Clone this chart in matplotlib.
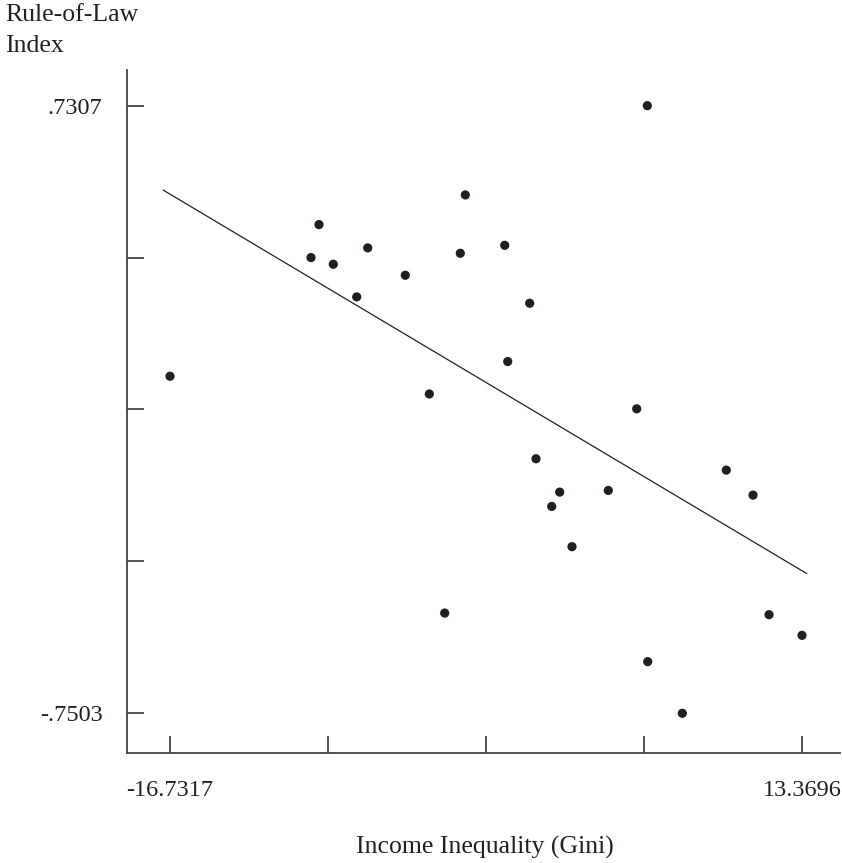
import numpy as np
import matplotlib
matplotlib.use("Agg")
import matplotlib.pyplot as plt

# ---- data ----
gini = [-16.7317, -10.016, -9.635, -8.954, -7.839, -7.315, -5.525, -4.381,
        -3.648, -2.905, -2.667, -0.790, -0.647, 0.401, 0.700, 1.448, 1.829,
        2.415, 4.144, 5.497, 6.002, 6.021, 7.669, 9.764, 11.036, 11.798, 13.3696]
rule_of_law = [0.0713, 0.3605, 0.4409, 0.3442, 0.2647, 0.3841, 0.3174, 0.0280,
               -0.5060, 0.3710, 0.5132, 0.3904, 0.1071, 0.2492, -0.1299, -0.2461,
               -0.2112, -0.3442, -0.2071, -0.0081, 0.7307, -0.6244, -0.7503,
               -0.1576, -0.2185, -0.5099, -0.5603]
fit_x_range = [-17.05, 13.59]
x_min_label, x_max_label = -16.7317, 13.3696
y_min_label, y_max_label = -0.7503, 0.7307
x_tick_labels = ["-16.7317", "", "", "", "13.3696"]
y_tick_labels = ["-.7503", "", "", "", ".7307"]

ink = "#231f20"
plt.rcParams["font.family"] = ["Liberation Serif", "DejaVu Serif"]

W, H = 842, 863
fig = plt.figure(figsize=(W / 100, H / 100), dpi=100)
ax = fig.add_axes([126.7 / W, 1 - 753 / H, (840 - 126.7) / W, (753 - 70) / H])

x = np.array(gini)
y = np.array(rule_of_law)
ax.scatter(x, y, s=44, color=ink, edgecolors="none", zorder=3)

slope, intercept = np.polyfit(x, y, 1)
lx = np.array(fit_x_range)
ax.plot(lx, intercept + slope * lx, color=ink, lw=0.9, zorder=2)

ax.set_xlim(-18.794, 15.179)
ax.set_ylim(-0.8471, 0.8177)
ax.set_xticks(np.linspace(x_min_label, x_max_label, 5))
ax.set_xticklabels(x_tick_labels)
ax.set_yticks(np.linspace(y_min_label, y_max_label, 5))
ax.set_yticklabels(y_tick_labels)

for s in ["top", "right"]:
    ax.spines[s].set_visible(False)
for s in ["left", "bottom"]:
    ax.spines[s].set_color("#444444")
    ax.spines[s].set_linewidth(1.3)
ax.tick_params(direction="in", length=12, width=1.3, color="#444444",
               labelsize=17.5, labelcolor=ink)
ax.tick_params(axis="x", pad=19.5)
ax.tick_params(axis="y", pad=17.5)

fig.text(5 / W, 1 - 4 / H, "Rule-of-Law\nIndex", ha="left", va="top",
         fontsize=18.5, color=ink, linespacing=1.5)
fig.text(485 / W, 1 - 847 / H, "Income Inequality (Gini)", ha="center",
         va="center", fontsize=18.5, color=ink)

fig.savefig("out.png", dpi=100)
